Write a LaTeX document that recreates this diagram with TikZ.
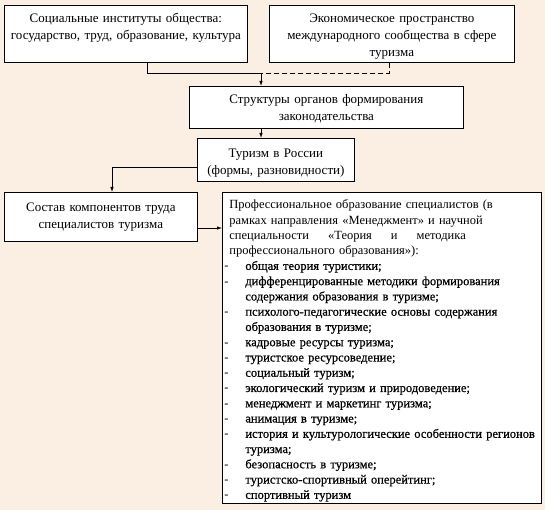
\documentclass[tikz,border=0pt]{standalone}
\usepackage{fontspec}
\setmainfont{Liberation Serif}
\usetikzlibrary{arrows.meta}

\definecolor{bgpeach}{RGB}{251,238,227}
\newcommand{\dashitem}[1]{\par\noindent\hangindent=21pt\hangafter=1\makebox[21pt][l]{-}{\addfontfeature{FakeBold=0.6}#1}}

\tikzset{every picture/.style={line width=0.75pt}}
\tikzset{
  box/.style={draw, fill=white, anchor=north west, inner xsep=4pt, inner ysep=3pt,
    text height=14.5pt, align=center, font=\fontsize{13}{17}\selectfont},
  link/.style={-{Latex[length=5pt,width=3.5pt]}},
}

\begin{document}
\begin{tikzpicture}[x=1pt,y=1pt,yscale=-1,xscale=1]
%Background
\fill[bgpeach] (0,0) rectangle (545,510);

%Shape: Rectangle [soc]
\node[box, text width=235pt, text depth=36.5pt] (soc) at (4,5)
  {Социальные институты общества:\\государство, труд, образование, культура};
%Shape: Rectangle [eco]
\node[box, text width=237pt, text depth=36.5pt] (eco) at (269,5)
  {Экономическое пространство\\международного сообщества в сфере\\туризма};
%Shape: Rectangle [struct]
\node[box, text width=266pt, text depth=21.5pt] (struct) at (189,86)
  {Структуры органов формирования\\законодательства};
%Shape: Rectangle [tour]
\node[box, text width=149pt, text depth=21pt, text height=16pt] (tour) at (197,138)
  {Туризм в России\\(формы, разновидности)};
%Shape: Rectangle [sost]
\node[box, text width=185pt, text depth=27.5pt, text height=16pt] (sost) at (4,192)
  {Состав компонентов труда\\специалистов туризма};
%Shape: Rectangle [prof]
\node[box, inner xsep=2pt, align=left, text width=315pt, text height=13.5pt, text depth=291.5pt,
  font=\fontsize{12.5}{15.26}\selectfont] (prof) at (222,192)
  {{\leftskip=5pt Профессиональное образование специалистов (в\newline
  рамках направления «Менеджмент» и научной\newline
  специальности\hskip 19pt«Теория\hskip 19pt и\hskip 19pt методика\newline
  профессионального образования»):\par}
  \dashitem{общая теория туристики;}
  \dashitem{дифференцированные методики формирования\newline содержания образования в туризме;}
  \dashitem{психолого-педагогические основы содержания\newline образования в туризме;}
  \dashitem{кадровые ресурсы туризма;}
  \dashitem{туристское ресурсоведение;}
  \dashitem{социальный туризм;}
  \dashitem{экологический туризм и природоведение;}
  \dashitem{менеджмент и маркетинг туризма;}
  \dashitem{анимация в туризме;}
  \dashitem{\mbox{история и культурологические особенности регионов}\newline туризма;}
  \dashitem{безопасность в туризме;}
  \dashitem{туристско-спортивный оперейтинг;}
  \dashitem{спортивный туризм}};

%Connector points
\coordinate (jl) at (147,73);
\coordinate (jr) at (389,73);
\coordinate (jm) at (261,73);
\coordinate (tk) at (112,167);
\coordinate (pa) at (0,228);

%Lines
\draw (soc.south -| jl) -- (jl) -- (jm);
\draw[dash pattern=on 5pt off 3pt] (eco.south -| jr) -- (jr) -- (jm);
\draw[link] (jm) -- (struct.north -| jm);
\draw[link] (struct.south -| jm) -- (tour.north -| jm);
\draw[link] (tour.west |- tk) -- (tk) -- (sost.north -| tk);
\draw[link] (sost.east |- pa) -- (prof.west |- pa);

\end{tikzpicture}
\end{document}
